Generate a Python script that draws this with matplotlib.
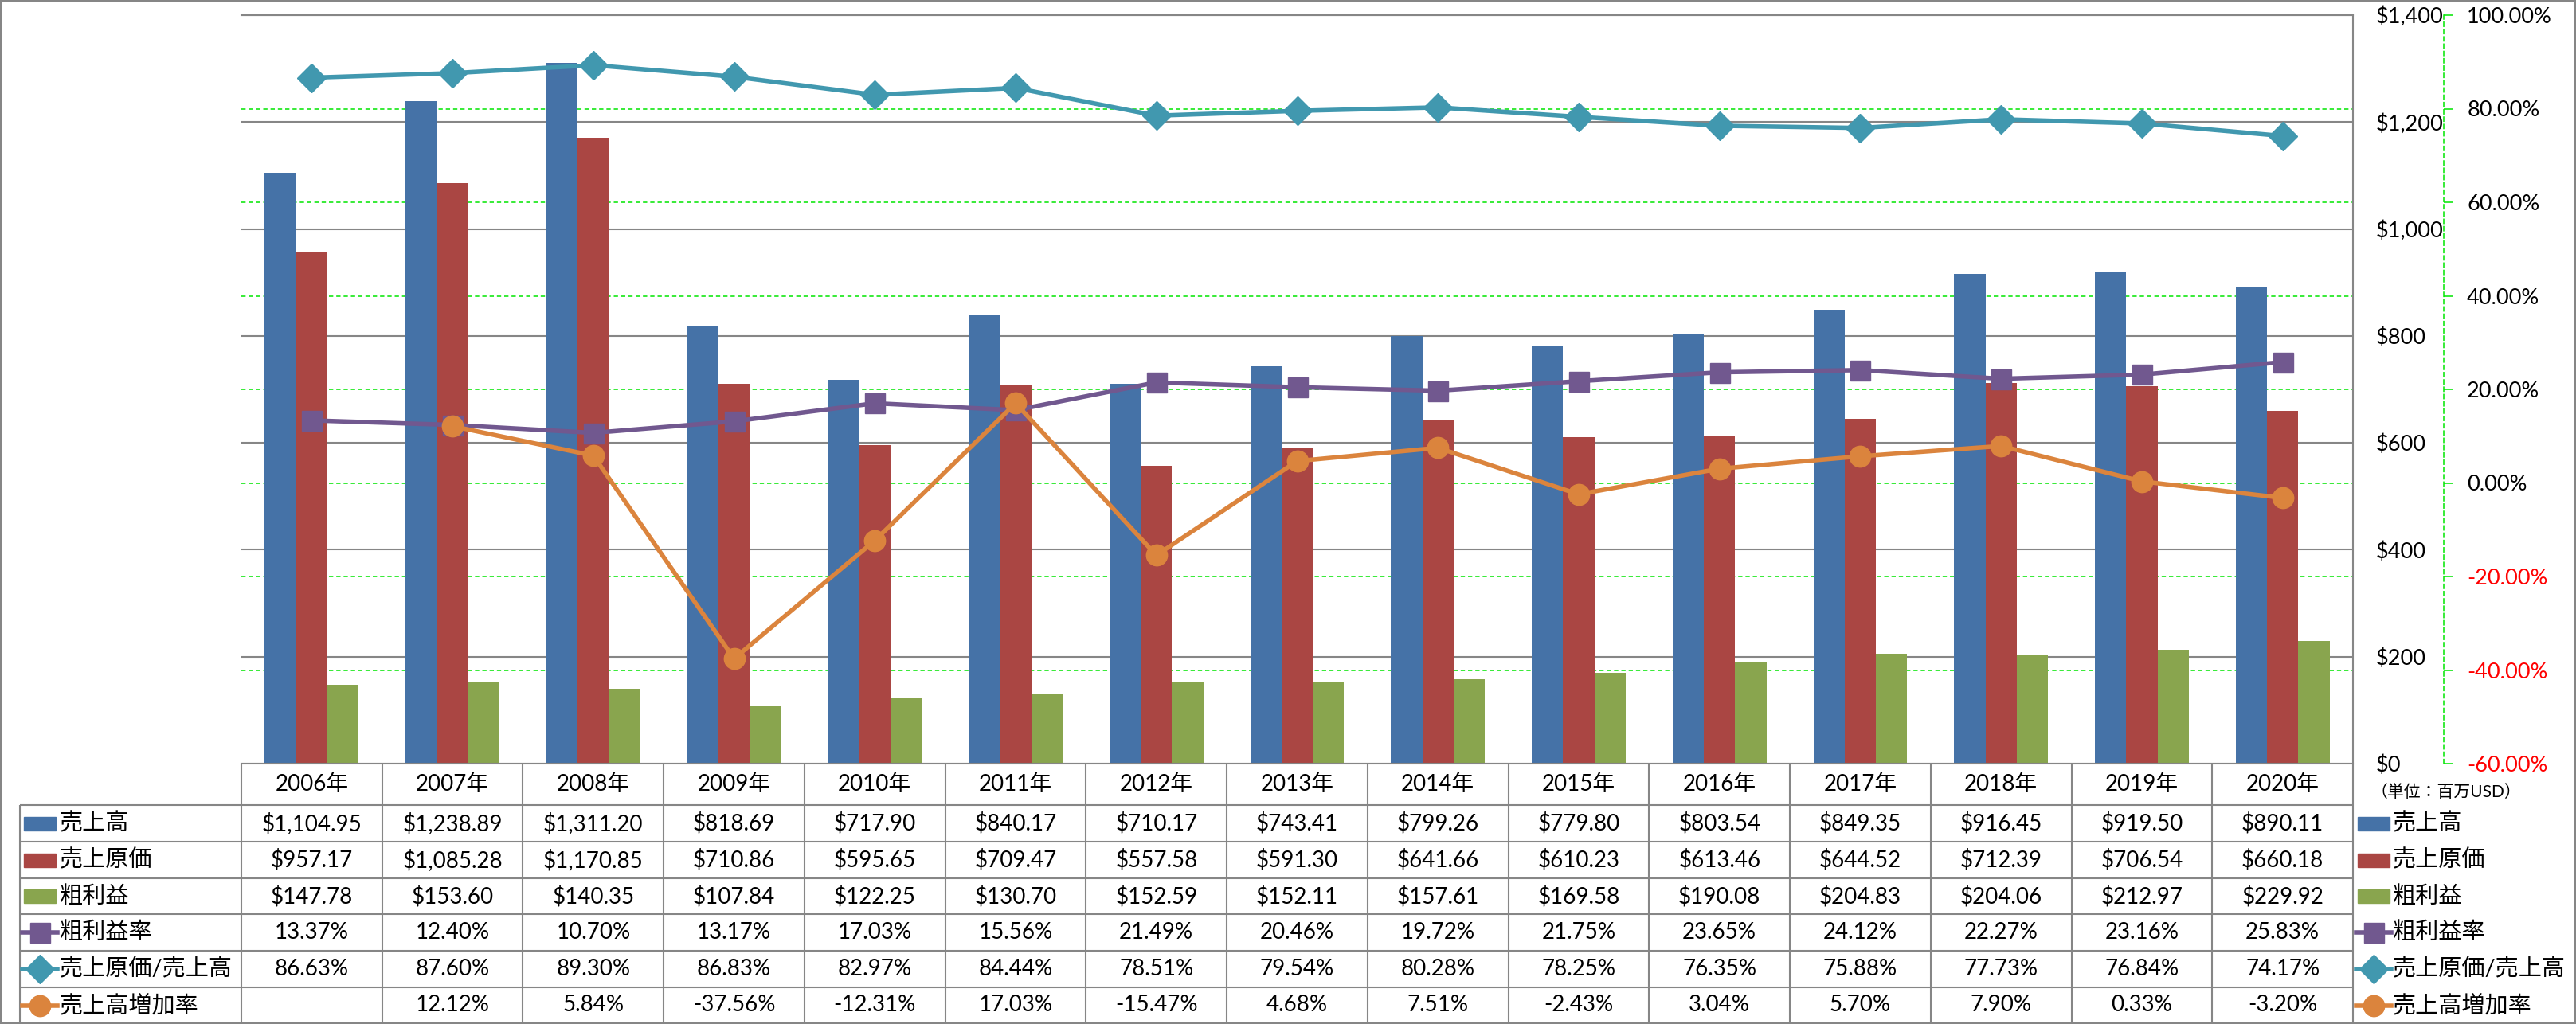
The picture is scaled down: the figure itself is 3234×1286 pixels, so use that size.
import numpy as np
import matplotlib.pyplot as plt
from matplotlib.patches import Rectangle
from matplotlib.ticker import FuncFormatter

plt.rcParams['font.family'] = ['Lato', 'Noto Sans CJK JP', 'DejaVu Sans']

# データ（単位：百万USD）
years = list(range(2006, 2021))
sales = [1104.95, 1238.89, 1311.20, 818.69, 717.90, 840.17, 710.17, 743.41,
         799.26, 779.80, 803.54, 849.35, 916.45, 919.50, 890.11]
cost = [957.17, 1085.28, 1170.85, 710.86, 595.65, 709.47, 557.58, 591.30,
        641.66, 610.23, 613.46, 644.52, 712.39, 706.54, 660.18]
gross = [147.78, 153.60, 140.35, 107.84, 122.25, 130.70, 152.59, 152.11,
         157.61, 169.58, 190.08, 204.83, 204.06, 212.97, 229.92]
margin = [13.37, 12.40, 10.70, 13.17, 17.03, 15.56, 21.49, 20.46,
          19.72, 21.75, 23.65, 24.12, 22.27, 23.16, 25.83]
cost_ratio = [86.63, 87.60, 89.30, 86.83, 82.97, 84.44, 78.51, 79.54,
              80.28, 78.25, 76.35, 75.88, 77.73, 76.84, 74.17]
growth = [np.nan, 12.12, 5.84, -37.56, -12.31, 17.03, -15.47, 4.68,
          7.51, -2.43, 3.04, 5.70, 7.90, 0.33, -3.20]

names = ['売上高', '売上原価', '粗利益', '粗利益率', '売上原価/売上高', '売上高増加率']
colors = ['#4572A7', '#AA4643', '#89A54E', '#71588F', '#4198AF', '#DB843D']
markers = [None, None, None, 's', 'D', 'o']
msizes = [0, 0, 0, 18, 18, 19]
unit_text = '（単位：百万USD）'

# レイアウト（ピクセル）
W, H = 3234, 1286
PL, PR, PT, PB = 303, 2954, 19, 959
TL = 25
row_edges = [959, 1011, 1057, 1103, 1148, 1194, 1240, 1285]
GRAY = '#868686'
GREEN = '#00e600'
LW = 4.0
cw = (PR - PL) / len(years)


def cx(px):
    return -0.5 + (px - PL) / cw


fig = plt.figure(figsize=(W / 100, H / 100), dpi=100)
ax_bar = fig.add_axes([PL / W, 1 - PB / H, (PR - PL) / W, (PB - PT) / H])
ax_pct = ax_bar.twinx()
ax_line = ax_bar.twinx()
ax_pct.set_zorder(0)
ax_bar.set_zorder(1)
ax_line.set_zorder(2)
ax_bar.patch.set_visible(False)
ax_pct.patch.set_visible(False)

x = np.arange(len(years))
bw = 1 / 4.5

# 棒グラフ
for k, vals in enumerate([sales, cost, gross]):
    ax_bar.bar(x + (k - 1) * bw, vals, bw, color=colors[k])
ax_bar.set_xlim(-0.5, len(years) - 0.5)
ax_bar.set_ylim(0, 1400)
ax_bar.set_yticks(range(0, 1401, 200))
ax_bar.yaxis.set_major_formatter(FuncFormatter(lambda v, p: f'${v:,.0f}'))
ax_bar.set_xticks([])
ax_bar.grid(axis='y', color=GRAY, lw=1.5)
ax_bar.set_axisbelow(True)
ax_bar.tick_params(axis='y', left=False, labelleft=False, right=True,
                   labelright=True, length=0, pad=21, labelsize=19.5)
ax_bar.spines['left'].set_visible(False)
for s in ['right', 'top', 'bottom']:
    ax_bar.spines[s].set_color(GRAY)
    ax_bar.spines[s].set_linewidth(1.5)

# パーセント軸
ax_pct.set_ylim(-60, 100)
pct_ticks = list(range(-60, 101, 20))
ax_pct.set_yticks(pct_ticks)
ax_pct.yaxis.set_major_formatter(FuncFormatter(lambda v, p: f'{v:.2f}%'))
ax_pct.set_xticks([])
ax_pct.grid(axis='y', color=GREEN, lw=1.1, linestyle=(0, (3.5, 2.5)))
for s in ['left', 'top', 'bottom']:
    ax_pct.spines[s].set_visible(False)
ax_pct.spines['right'].set_position(('outward', (3068 - PR) * 0.72))
ax_pct.spines['right'].set_color(GREEN)
ax_pct.spines['right'].set_linewidth(1.1)
ax_pct.spines['right'].set_linestyle((0, (3.5, 2.5)))
ax_pct.tick_params(axis='y', direction='out', length=8, width=1.1, color=GREEN,
                   pad=13, labelsize=19.5)
for tick, v in zip(ax_pct.yaxis.get_major_ticks(), pct_ticks):
    tick.label2.set_color('red' if v < 0 else 'black')

# 折れ線
ax_line.set_ylim(-60, 100)
ax_line.set_xlim(-0.5, len(years) - 0.5)
ax_line.axis('off')
for k, vals in zip([3, 4, 5], [margin, cost_ratio, growth]):
    ax_line.plot(x, vals, color=colors[k], lw=LW, marker=markers[k],
                 ms=msizes[k], zorder=k, clip_on=False)

# データテーブル
tax = fig.add_axes([TL / W, 1 - row_edges[-1] / H, (PR - TL) / W,
                    (row_edges[-1] - row_edges[0]) / H])
tax.set_xlim(cx(TL), cx(PR))
tax.set_ylim(row_edges[-1], row_edges[0])
tax.axis('off')

for y in row_edges[1:]:
    tax.hlines(y, cx(TL), cx(PR), color=GRAY, lw=1.5, clip_on=False)
for k in range(len(years) + 1):
    tax.vlines(k - 0.5, row_edges[0], row_edges[-1], color=GRAY, lw=1.5, clip_on=False)
tax.vlines(cx(TL), row_edges[1], row_edges[-1], color=GRAY, lw=1.5, clip_on=False)

hy = (row_edges[0] + row_edges[1]) / 2
for i, y in enumerate(years):
    tax.text(i, hy, f'{y}年', ha='center', va='center', fontsize=20)

money = lambda v: f'${v:,.2f}'
pct = lambda v: f'{v:.2f}%'
table_rows = [(sales, money), (cost, money), (gross, money),
              (margin, pct), (cost_ratio, pct), (growth, pct)]

for r, (vals, fmt) in enumerate(table_rows):
    yc = (row_edges[r + 1] + row_edges[r + 2]) / 2
    for i, v in enumerate(vals):
        if not np.isnan(v):
            tax.text(i, yc, fmt(v), ha='center', va='center', fontsize=20)
    # 凡例（左と右）
    for kx0, kx1, tx in [(30, 70, 75), (2960, 3000, 3004)]:
        if markers[r] is None:
            tax.add_patch(Rectangle((cx(kx0), yc - 8.5), cx(kx1) - cx(kx0), 17,
                                    color=colors[r], clip_on=False))
        else:
            tax.plot([cx(kx0 - 2), cx(kx1 + 2)], [yc, yc], color=colors[r], lw=LW,
                     clip_on=False)
            tax.plot([cx((kx0 + kx1) / 2)], [yc], color=colors[r], marker=markers[r],
                     ms=msizes[r], clip_on=False)
        tax.text(cx(tx), yc, names[r], ha='left', va='center', fontsize=21)

tax.text(cx(2977), 995, unit_text, ha='left', va='center', fontsize=15)

fig.add_artist(Rectangle((0, 0), 1, 1, transform=fig.transFigure, fill=False,
                         ec=GRAY, lw=4))

fig.savefig('out.png', dpi=100)
